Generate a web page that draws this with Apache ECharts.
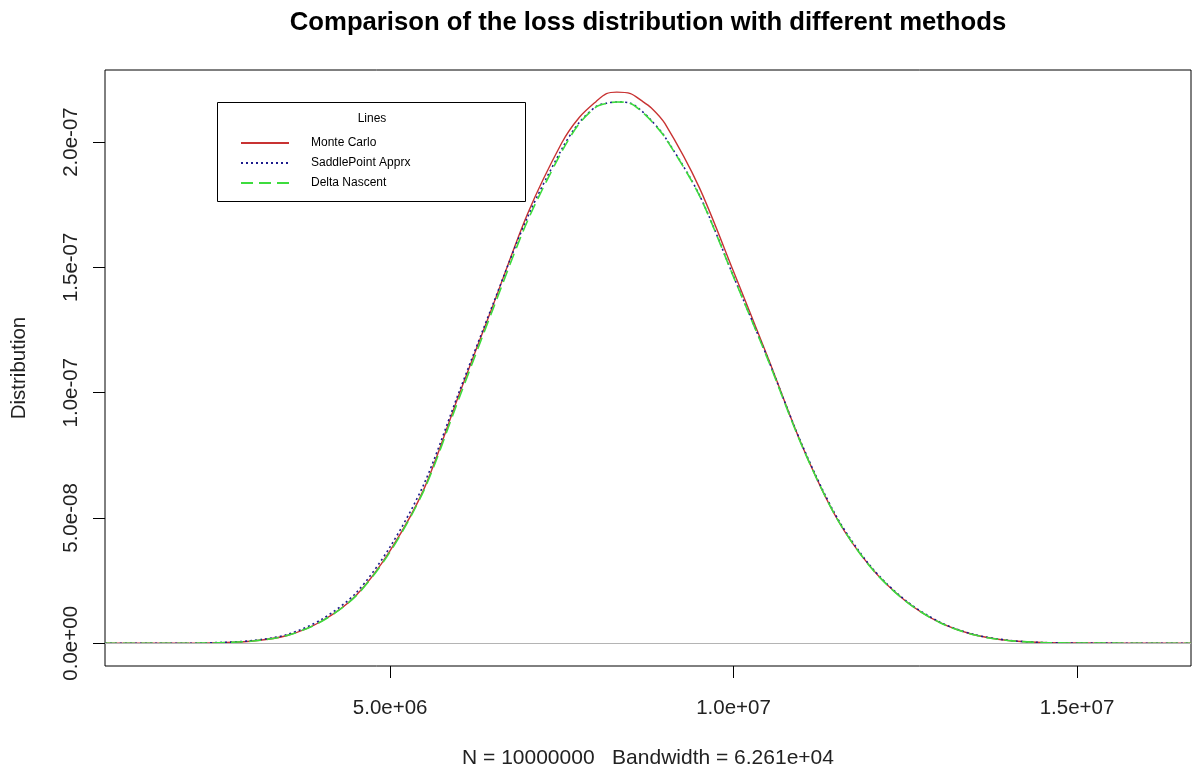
<!DOCTYPE html>
<html>
<head>
<meta charset="utf-8">
<title>Loss distribution</title>
<script src="https://cdn.jsdelivr.net/npm/echarts@6/dist/echarts.min.js"></script>
<style>
  html, body { margin: 0; padding: 0; background: #fff; }
  #chart { width: 1201px; height: 771px; }
</style>
</head>
<body>
<div id="chart"></div>
<script>
// loss values (x) and density of each method (y)
const lossX = [0.85e6, 2.0e6, 2.5e6, 3.0e6, 3.5e6, 4.0e6, 4.5e6, 5.0e6, 5.5e6, 6.0e6, 6.5e6, 7.0e6, 7.5e6, 7.75e6,
  8.0e6, 8.15e6, 8.3e6, 8.5e6, 8.65e6, 8.8e6, 9.0e6, 9.5e6, 10.0e6, 10.5e6, 11.0e6, 11.5e6, 12.0e6, 12.5e6,
  13.0e6, 13.5e6, 14.0e6, 14.5e6, 15.0e6, 16.66e6];
const monteCarlo = [0, 0, 0.002e-7, 0.009e-7, 0.031e-7, 0.088e-7, 0.19e-7, 0.37e-7, 0.62e-7, 0.99e-7, 1.35e-7, 1.713e-7,
  1.997e-7, 2.097e-7, 2.162e-7, 2.193e-7, 2.199e-7, 2.193e-7, 2.167e-7, 2.137e-7, 2.074e-7, 1.819e-7, 1.483e-7,
  1.14e-7, 0.787e-7, 0.50e-7, 0.303e-7, 0.17e-7, 0.083e-7, 0.034e-7, 0.011e-7, 0.003e-7, 0.001e-7, 0];
const saddlePoint = [0, 0, 0.003e-7, 0.011e-7, 0.035e-7, 0.095e-7, 0.20e-7, 0.385e-7, 0.64e-7, 1.0e-7, 1.355e-7, 1.70e-7,
  1.972e-7, 2.077e-7, 2.142e-7, 2.155e-7, 2.160e-7, 2.155e-7, 2.127e-7, 2.087e-7, 2.021e-7, 1.790e-7, 1.464e-7,
  1.135e-7, 0.79e-7, 0.505e-7, 0.306e-7, 0.172e-7, 0.085e-7, 0.035e-7, 0.012e-7, 0.003e-7, 0.001e-7, 0];
const deltaNascent = [0, 0, 0.002e-7, 0.009e-7, 0.031e-7, 0.087e-7, 0.188e-7, 0.365e-7, 0.615e-7, 0.975e-7, 1.335e-7, 1.685e-7,
  1.962e-7, 2.072e-7, 2.140e-7, 2.154e-7, 2.160e-7, 2.154e-7, 2.125e-7, 2.085e-7, 2.019e-7, 1.788e-7, 1.462e-7,
  1.132e-7, 0.785e-7, 0.50e-7, 0.302e-7, 0.169e-7, 0.083e-7, 0.034e-7, 0.011e-7, 0.003e-7, 0.001e-7, 0];

const xTicks = [5e6, 1e7, 1.5e7];
const yTicks = [0, 5e-8, 1e-7, 1.5e-7, 2e-7];

const FONT = "'Liberation Sans', Arial, sans-serif";

// R style number: 5.0e+06
function sci(v) {
  const parts = v.toExponential(1).split("e");
  const exp = parts[1];
  return parts[0] + "e" + exp[0] + exp.slice(1).padStart(2, "0");
}

function pairs(ys) {
  return lossX.map((x, i) => [x, ys[i]]);
}

const chart = echarts.init(document.getElementById("chart"));
const option = {
  animation: false,
  backgroundColor: "#fff",
  title: {
    text: "Comparison of the loss distribution with different methods",
    left: 643,
    textAlign: "center",
    top: 5,
    textStyle: { fontFamily: FONT, fontSize: 25.7, fontWeight: "bold", color: "#000" },
  },
  grid: {
    left: 105,
    right: 10,
    top: 70,
    bottom: 105,
    outerBoundsMode: "none",
    show: true,
    borderColor: "#000",
    borderWidth: 1,
  },
  legend: {
    orient: "vertical",
    left: 240,
    top: 137,
    padding: 0,
    itemWidth: 48,
    itemHeight: 12,
    itemGap: 8,
    itemStyle: { opacity: 0 },
    textStyle: { fontFamily: FONT, fontSize: 12, color: "#000", padding: [0, 0, 0, 17] },
    data: ["Monte Carlo", "SaddlePoint Apprx", "Delta Nascent"],
  },
  graphic: [
    {
      type: "rect",
      shape: { x: 217.5, y: 102.5, width: 308, height: 99 },
      style: { fill: "#fff", stroke: "#000", lineWidth: 1 },
      z: 0,
    },
    {
      type: "text",
      x: 372,
      y: 119,
      style: {
        text: "Lines",
        fontFamily: FONT,
        fontSize: 12,
        fill: "#000",
        align: "center",
        verticalAlign: "middle",
      },
    },
  ],
  xAxis: {
    type: "value",
    min: 0.849e6,
    max: 1.666e7,
    name: "N = 10000000   Bandwidth = 6.261e+04",
    nameLocation: "middle",
    nameGap: 82,
    nameTextStyle: { fontFamily: FONT, fontSize: 21, color: "#222" },
    axisLine: { show: false, onZero: false },
    splitLine: { show: false },
    axisTick: { show: true, length: 12, customValues: xTicks, lineStyle: { color: "#000" } },
    axisLabel: {
      customValues: xTicks,
      formatter: sci,
      margin: 32,
      fontFamily: FONT,
      fontSize: 20.5,
      color: "#222",
    },
  },
  yAxis: {
    type: "value",
    min: -0.0906e-7,
    max: 2.2874e-7,
    name: "Distribution",
    nameLocation: "middle",
    nameGap: 75,
    nameTextStyle: { fontFamily: FONT, fontSize: 20.5, color: "#222" },
    axisLine: { show: false, onZero: false },
    splitLine: { show: false },
    axisTick: { show: true, length: 12, customValues: yTicks, lineStyle: { color: "#000" } },
    axisLabel: {
      customValues: yTicks,
      formatter: sci,
      rotate: 90,
      margin: 23,
      fontFamily: FONT,
      fontSize: 20.5,
      color: "#222",
    },
  },
  series: [
    {
      name: "Monte Carlo",
      type: "line",
      data: pairs(monteCarlo),
      smooth: 0.3,
      symbol: "none",
      lineStyle: { color: "#c83232", width: 1.4, type: "solid" },
      itemStyle: { color: "#c83232" },
      // grey line at zero like R's density plot
      markLine: {
        silent: true,
        symbol: "none",
        label: { show: false },
        lineStyle: { color: "#b4b4b4", width: 1.2, type: "solid" },
        data: [{ yAxis: 0 }],
      },
    },
    {
      name: "SaddlePoint Apprx",
      type: "line",
      data: pairs(saddlePoint),
      smooth: 0.3,
      symbol: "none",
      lineStyle: { color: "#1c1c8c", width: 1.6, type: [2, 3] },
      itemStyle: { color: "#1c1c8c" },
    },
    {
      name: "Delta Nascent",
      type: "line",
      data: pairs(deltaNascent),
      smooth: 0.3,
      symbol: "none",
      lineStyle: { color: "#3ddc3d", width: 1.6, type: [12, 6] },
      itemStyle: { color: "#3ddc3d" },
    },
  ],
};
chart.setOption(option);
</script>
</body>
</html>
